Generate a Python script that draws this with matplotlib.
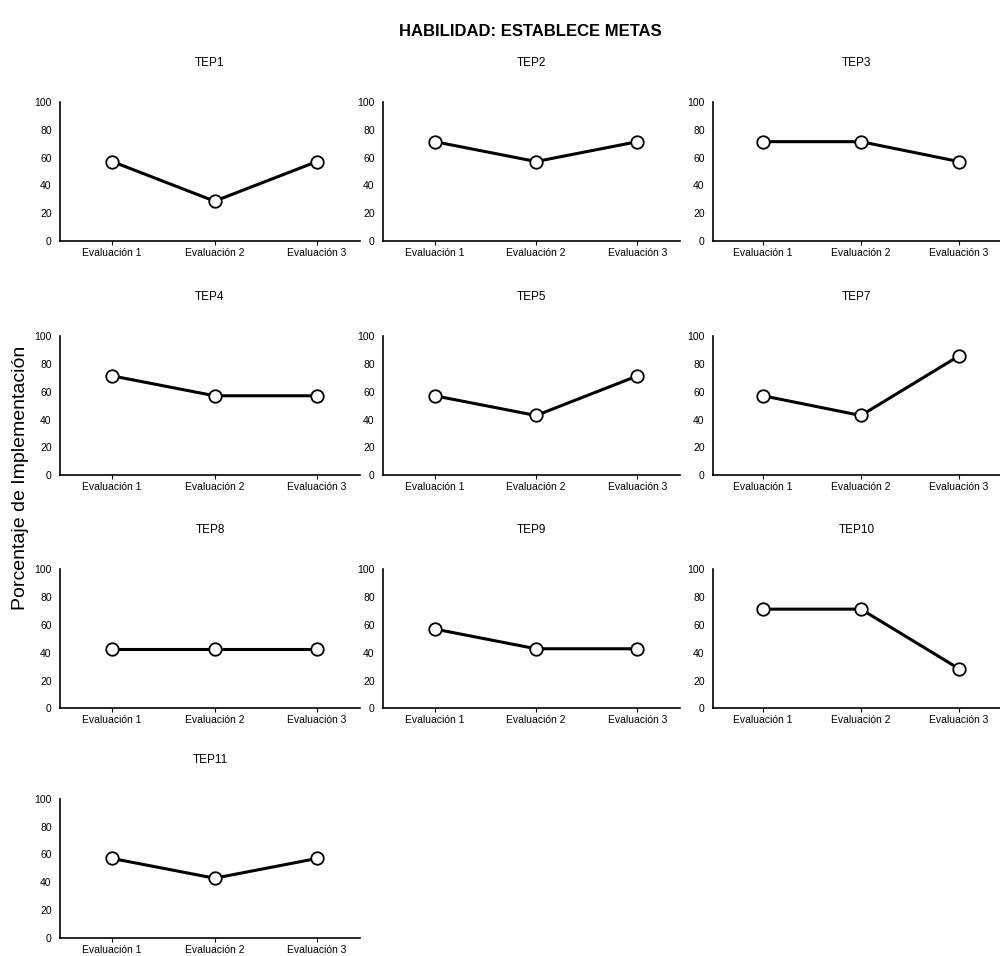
import matplotlib.pyplot as plt

plt.rcParams['font.family'] = ['Liberation Sans', 'DejaVu Sans']

# Datos: porcentaje de implementación por TEP y evaluación
evaluaciones = ['Evaluación 1', 'Evaluación 2', 'Evaluación 3']
teps = ['TEP1', 'TEP2', 'TEP3', 'TEP4', 'TEP5', 'TEP7', 'TEP8', 'TEP9', 'TEP10', 'TEP11']
tep1 = [57.1, 28.6, 57.1]
tep2 = [71.4, 57.1, 71.4]
tep3 = [71.4, 71.4, 57.1]
tep4 = [71.4, 57.1, 57.1]
tep5 = [57.1, 42.9, 71.4]
tep7 = [57.1, 42.9, 85.7]
tep8 = [42.9, 42.9, 42.9]
tep9 = [57.1, 42.9, 42.9]
tep10 = [71.4, 71.4, 28.6]
tep11 = [57.1, 42.9, 57.1]
valores = [tep1, tep2, tep3, tep4, tep5, tep7, tep8, tep9, tep10, tep11]

fig = plt.figure(figsize=(10, 9.56), dpi=100)

# posiciones de las columnas y filas de la rejilla
lefts = [0.060, 0.383, 0.713]
widths = [0.300, 0.297, 0.287]
bottoms = [0.748, 0.503, 0.259, 0.019]
height = 0.1454

x = [1, 2, 3]
for i, (nombre, vals) in enumerate(zip(teps, valores)):
    fila, col = divmod(i, 3)
    ax = fig.add_axes([lefts[col], bottoms[fila], widths[col], height])
    ax.plot(x, vals, color='black', lw=2.2, marker='o', markersize=9,
            markerfacecolor='white', markeredgecolor='black', markeredgewidth=1.3,
            clip_on=False, zorder=3)
    ax.set_xlim(0.49, 3.42)
    ax.set_ylim(0, 100)
    ax.set_yticks([0, 20, 40, 60, 80, 100])
    ax.set_xticks(x)
    ax.set_xticklabels(evaluaciones)
    ax.spines['top'].set_visible(False)
    ax.spines['right'].set_visible(False)
    ax.spines['left'].set_linewidth(1.2)
    ax.spines['bottom'].set_linewidth(1.2)
    ax.tick_params(axis='y', length=0, labelsize=7.5, pad=6)
    ax.tick_params(axis='x', length=3, width=0.8, labelsize=7.5, pad=2)
    ax.set_title(nombre, fontsize=8.5, pad=26)

fig.suptitle('HABILIDAD: ESTABLECE METAS', fontsize=12, fontweight='bold',
             x=0.53, y=0.975)
fig.text(0.021, 0.5, 'Porcentaje de Implementación', rotation=90,
         fontsize=14, va='center', ha='center')

fig.savefig('out.png', dpi=100)
